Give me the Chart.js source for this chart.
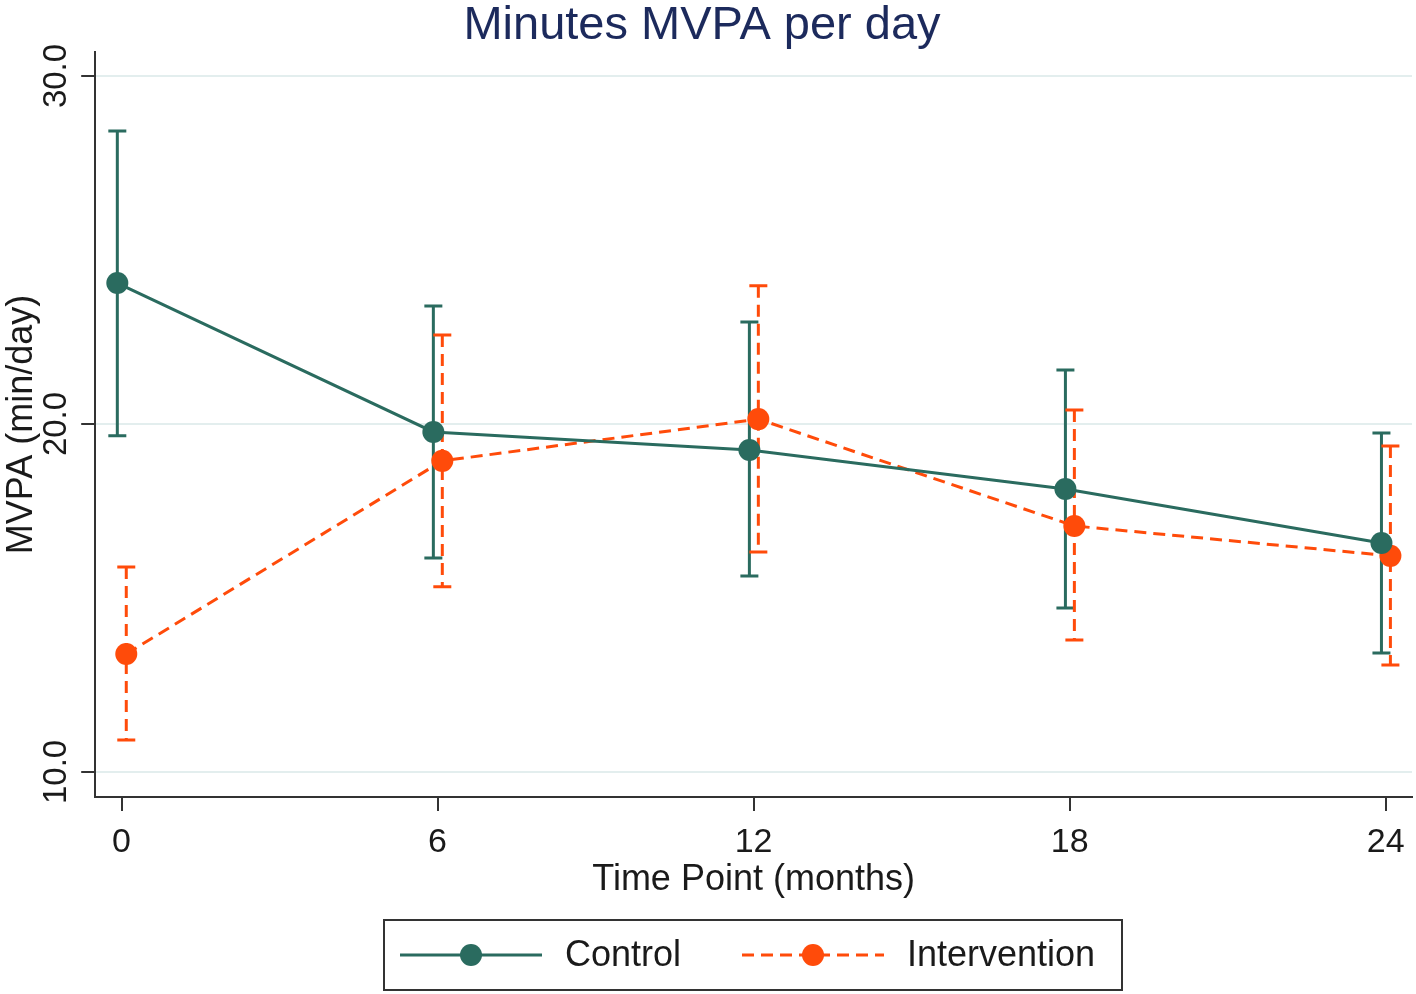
<!DOCTYPE html>
<html>
<head>
<meta charset="utf-8">
<script src="https://cdn.jsdelivr.net/npm/chart.js@4/dist/chart.umd.min.js"></script>
<style>
  html, body { margin: 0; padding: 0; background: #ffffff; }
  #wrap { width: 1416px; height: 994px; }
</style>
</head>
<body>
<div id="wrap"><canvas id="c" width="1416" height="994"></canvas></div>
<script>
// ---- data ----
const chartTitle = 'Minutes MVPA per day';
const timePoints = [0, 6, 12, 18, 24];
const controlMean  = [24.05, 19.77, 19.25, 18.13, 16.58];
const controlLower = [19.66, 16.15, 15.63, 14.71, 13.42];
const controlUpper = [28.42, 23.39, 22.93, 21.55, 19.74];
const interMean  = [13.39, 18.94, 20.14, 17.07, 16.21];
const interLower = [10.92, 15.32, 16.32, 13.79, 13.07];
const interUpper = [15.89, 22.56, 23.97, 20.40, 19.37];
const xTickValues = [0, 6, 12, 18, 24];
const yTickValues = [10, 20, 30];
const yTickLabels = ['10.0', '20.0', '30.0'];

// ---- styles ----
const FONT = "'Liberation Sans', Arial, Helvetica, sans-serif";
const CONTROL_COLOR = '#2a6b5f';
const INTER_COLOR = '#ff4b0a';
const TEXT_COLOR = '#1a1a1a';
const TITLE_COLOR = '#1c2a5c';
const AXIS_COLOR = '#333333';
const DASH = [12, 7];
const CONTROL_SHIFT = -0.08;
const INTER_SHIFT = 0.09;

const controlPts = timePoints.map((t, i) => ({ x: t + CONTROL_SHIFT, y: controlMean[i] }));
const interPts = timePoints.map((t, i) => ({ x: t + INTER_SHIFT, y: interMean[i] }));

const errorBars = {
  id: 'errorBars',
  beforeDatasetsDraw(chart) {
    const { ctx, scales: { x, y } } = chart;
    const sets = [
      { shift: CONTROL_SHIFT, lo: controlLower, hi: controlUpper, color: CONTROL_COLOR, dash: [] },
      { shift: INTER_SHIFT, lo: interLower, hi: interUpper, color: INTER_COLOR, dash: DASH }
    ];
    ctx.save();
    ctx.beginPath();
    ctx.rect(chart.chartArea.left, chart.chartArea.top, chart.chartArea.width, chart.chartArea.height);
    ctx.clip();
    sets.forEach(s => {
      ctx.strokeStyle = s.color;
      ctx.lineWidth = 3;
      timePoints.forEach((t, i) => {
        const px = x.getPixelForValue(t + s.shift);
        const yl = y.getPixelForValue(s.lo[i]);
        const yh = y.getPixelForValue(s.hi[i]);
        ctx.setLineDash(s.dash);
        ctx.beginPath();
        ctx.moveTo(px, yh);
        ctx.lineTo(px, yl);
        ctx.stroke();
        ctx.setLineDash([]);
        ctx.beginPath();
        ctx.moveTo(px - 9, yh); ctx.lineTo(px + 9, yh);
        ctx.moveTo(px - 9, yl); ctx.lineTo(px + 9, yl);
        ctx.stroke();
      });
    });
    ctx.restore();
  }
};

const extras = {
  id: 'extras',
  afterDraw(chart) {
    const { ctx, scales: { y } } = chart;
    ctx.save();
    // title
    ctx.fillStyle = TITLE_COLOR;
    ctx.font = '47px ' + FONT;
    ctx.textAlign = 'center';
    ctx.textBaseline = 'alphabetic';
    ctx.fillText(chartTitle, 702, 39);
    // rotated y tick labels
    ctx.fillStyle = TEXT_COLOR;
    ctx.font = '33px ' + FONT;
    ctx.textAlign = 'center';
    ctx.textBaseline = 'middle';
    yTickValues.forEach((v, i) => {
      const py = y.getPixelForValue(v);
      ctx.save();
      ctx.translate(57, py);
      ctx.rotate(-Math.PI / 2);
      ctx.fillText(yTickLabels[i], 0, 0);
      ctx.restore();
    });
    // legend box
    const bx = 384, by = 920, bw = 738, bh = 70;
    ctx.strokeStyle = AXIS_COLOR;
    ctx.lineWidth = 2;
    ctx.strokeRect(bx, by, bw, bh);
    const items = [
      { lx: 400, tx: 565, ds: chart.data.datasets[0] },
      { lx: 742, tx: 907, ds: chart.data.datasets[1] }
    ];
    const cy = by + bh / 2;
    items.forEach(it => {
      ctx.strokeStyle = it.ds.borderColor;
      ctx.lineWidth = 3;
      ctx.setLineDash(it.ds.borderDash || []);
      ctx.beginPath();
      ctx.moveTo(it.lx, cy);
      ctx.lineTo(it.lx + 142, cy);
      ctx.stroke();
      ctx.setLineDash([]);
      ctx.fillStyle = it.ds.pointBackgroundColor;
      ctx.beginPath();
      ctx.arc(it.lx + 71, cy, 11, 0, Math.PI * 2);
      ctx.fill();
      ctx.fillStyle = TEXT_COLOR;
      ctx.font = '36px ' + FONT;
      ctx.textAlign = 'left';
      ctx.textBaseline = 'middle';
      ctx.fillText(it.ds.label, it.tx, cy + 1);
    });
    ctx.restore();
  }
};

new Chart(document.getElementById('c'), {
  type: 'line',
  data: {
    datasets: [
      {
        label: 'Control',
        data: controlPts,
        borderColor: CONTROL_COLOR,
        backgroundColor: CONTROL_COLOR,
        pointBackgroundColor: CONTROL_COLOR,
        pointBorderWidth: 0,
        pointRadius: 11,
        borderWidth: 3,
        tension: 0
      },
      {
        label: 'Intervention',
        data: interPts,
        borderColor: INTER_COLOR,
        backgroundColor: INTER_COLOR,
        pointBackgroundColor: INTER_COLOR,
        pointBorderWidth: 0,
        pointRadius: 11,
        borderWidth: 3,
        borderDash: DASH,
        tension: 0
      }
    ]
  },
  options: {
    responsive: false,
    animation: false,
    events: [],
    layout: { autoPadding: false, padding: { left: 0, right: 4, top: 52, bottom: 92 } },
    plugins: {
      legend: { display: false },
      tooltip: { enabled: false },
      title: { display: false }
    },
    scales: {
      x: {
        type: 'linear',
        min: -0.5,
        max: 24.5,
        afterBuildTicks: s => { s.ticks = xTickValues.map(v => ({ value: v })); },
        afterFit: s => { s.paddingLeft = 0; s.paddingRight = 0; },
        ticks: {
          color: TEXT_COLOR,
          font: { family: FONT, size: 34 },
          padding: 11,
          maxRotation: 0,
          callback: v => String(v)
        },
        grid: { display: true, drawOnChartArea: false, drawTicks: true, tickLength: 14, tickColor: AXIS_COLOR, lineWidth: 2 },
        border: { display: true, color: AXIS_COLOR, width: 2 },
        title: {
          display: true,
          text: 'Time Point (months)',
          color: TEXT_COLOR,
          font: { family: FONT, size: 36 },
          padding: { top: -15, bottom: 0 }
        }
      },
      y: {
        type: 'linear',
        min: 9.28,
        max: 30.69,
        afterBuildTicks: s => { s.ticks = yTickValues.map(v => ({ value: v })); },
        afterFit: s => { s.paddingTop = 0; s.paddingBottom = 0; },
        ticks: { display: false },
        grid: { display: true, drawOnChartArea: true, drawTicks: true, tickLength: 14, color: '#e3eeee', tickColor: AXIS_COLOR, lineWidth: 2 },
        border: { display: true, color: AXIS_COLOR, width: 2 },
        title: {
          display: true,
          text: 'MVPA (min/day)',
          color: TEXT_COLOR,
          font: { family: FONT, size: 36 },
          padding: { top: 0, bottom: 38 }
        }
      }
    }
  },
  plugins: [errorBars, extras]
});
</script>
</body>
</html>
